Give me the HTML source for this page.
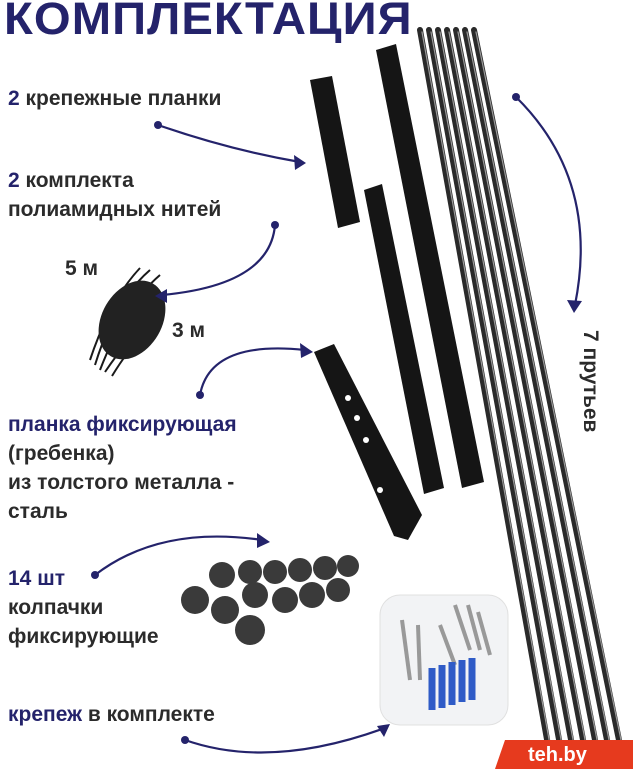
<!DOCTYPE html>
<html><head><meta charset="utf-8"><style>
body{margin:0;width:633px;height:769px;background:#fff;overflow:hidden;position:relative;font-family:"Liberation Sans",Arial,sans-serif}
.t{position:absolute;color:#2b2b2b;font-size:21px;font-weight:bold;line-height:29px;white-space:nowrap}
.n{color:#24236b}
svg{position:absolute;left:0;top:0}
</style></head><body>
<svg width="633" height="769" viewBox="0 0 633 769">
<g stroke-linecap="round">
<g stroke="#2a2a2a" stroke-width="6">
<line x1="420" y1="30" x2="548" y2="745"/><line x1="429" y1="30" x2="560" y2="745"/><line x1="438" y1="30" x2="572" y2="745"/><line x1="447" y1="30" x2="584" y2="745"/><line x1="456" y1="30" x2="596" y2="745"/><line x1="465" y1="30" x2="608" y2="745"/><line x1="474" y1="30" x2="620" y2="745"/>
</g>
<g stroke="#9a9a9a" stroke-width="1.2">
<line x1="422" y1="32" x2="550" y2="745"/><line x1="431" y1="32" x2="562" y2="745"/><line x1="440" y1="32" x2="574" y2="745"/><line x1="449" y1="32" x2="586" y2="745"/><line x1="458" y1="32" x2="598" y2="745"/><line x1="467" y1="32" x2="610" y2="745"/><line x1="476" y1="32" x2="622" y2="745"/>
</g>
</g>
<g fill="#151515">
<polygon points="310,80 332,76 360,222 338,228"/>
<polygon points="376,50 396,44 484,482 462,488"/>
<polygon points="364,190 382,184 444,488 424,494"/>
<polygon points="314,352 334,344 422,515 408,540 394,536"/>
</g>
<g fill="#fff"><circle cx="348" cy="398" r="3"/><circle cx="357" cy="418" r="3"/><circle cx="366" cy="440" r="3"/><circle cx="380" cy="490" r="3"/></g>
<g stroke="#1a1a1a" stroke-width="2" fill="none">
<path d="M90,360 Q110,300 140,268 M95,365 Q115,300 150,270 M100,370 Q125,305 160,275 M105,372 Q140,320 162,318 M112,376 Q140,330 158,330"/>
</g>
<ellipse cx="132" cy="320" rx="30" ry="42" fill="#222" transform="rotate(30 132 320)"/>
<g fill="#3a3a3a">
<circle cx="195" cy="600" r="14"/><circle cx="222" cy="575" r="13"/><circle cx="250" cy="572" r="12"/><circle cx="275" cy="572" r="12"/><circle cx="300" cy="570" r="12"/><circle cx="325" cy="568" r="12"/><circle cx="348" cy="566" r="11"/>
<circle cx="225" cy="610" r="14"/><circle cx="250" cy="630" r="15"/><circle cx="255" cy="595" r="13"/><circle cx="285" cy="600" r="13"/><circle cx="312" cy="595" r="13"/><circle cx="338" cy="590" r="12"/>
</g>
<rect x="380" y="595" width="128" height="130" rx="20" fill="#f2f3f5" stroke="#e0e0e0"/>
<g stroke="#999" stroke-width="4"><line x1="402" y1="620" x2="410" y2="680"/><line x1="418" y1="625" x2="420" y2="680"/><line x1="455" y1="605" x2="470" y2="650"/><line x1="468" y1="605" x2="480" y2="650"/><line x1="478" y1="612" x2="490" y2="655"/><line x1="440" y1="625" x2="455" y2="665"/></g>
<g stroke="#2f5bc7" stroke-width="7"><line x1="432" y1="668" x2="432" y2="710"/><line x1="442" y1="665" x2="442" y2="708"/><line x1="452" y1="662" x2="452" y2="705"/><line x1="462" y1="660" x2="462" y2="702"/><line x1="472" y1="658" x2="472" y2="700"/></g>
<g fill="none" stroke="#24236b" stroke-width="2.2">
<path d="M158,125 Q230,150 300,162"/><path d="M275,225 Q270,285 162,295"/><path d="M200,395 Q210,340 305,350"/><path d="M95,575 Q160,525 262,540"/><path d="M185,740 Q270,770 385,728"/><path d="M516,97 Q600,180 575,305"/>
</g>
<g fill="#24236b"><circle cx="158" cy="125" r="4"/><circle cx="275" cy="225" r="4"/><circle cx="200" cy="395" r="4"/><circle cx="95" cy="575" r="4"/><circle cx="185" cy="740" r="4"/><circle cx="516" cy="97" r="4"/>
<polygon points="306,163 294,155 295,170"/><polygon points="155,296 167,289 167,303"/><polygon points="313,352 300,343 301,358"/><polygon points="270,542 257,533 257,548"/><polygon points="390,724 377,726 384,737"/><polygon points="574,313 567,300 582,301"/></g>
<polygon points="505,740 633,740 633,769 495,769" fill="#e63a1e"/>
</svg>
<div class="t n" style="left:4px;top:-6px;font-size:45px;line-height:50px;font-weight:900;letter-spacing:1px;transform:scaleX(1.05);transform-origin:left top">КОМПЛЕКТАЦИЯ</div>
<div class="t" style="left:8px;top:84px"><span class="n">2</span> крепежные планки</div>
<div class="t" style="left:8px;top:166px"><span class="n">2</span> комплекта<br>полиамидных нитей</div>
<div class="t" style="left:65px;top:254px">5 м</div>
<div class="t" style="left:172px;top:316px">3 м</div>
<div class="t" style="left:8px;top:410px"><span class="n">планка фиксирующая</span><br>(гребенка)<br>из толстого металла -<br>сталь</div>
<div class="t" style="left:8px;top:564px"><span class="n">14 шт</span><br>колпачки<br>фиксирующие</div>
<div class="t" style="left:8px;top:700px"><span class="n">крепеж</span> в комплекте</div>
<div class="t" style="transform:rotate(90deg);transform-origin:left top;left:605px;top:330px">7 прутьев</div>
<div class="t" style="left:528px;top:741px;color:#fff;font-size:20px">teh.by</div>
</body></html>
